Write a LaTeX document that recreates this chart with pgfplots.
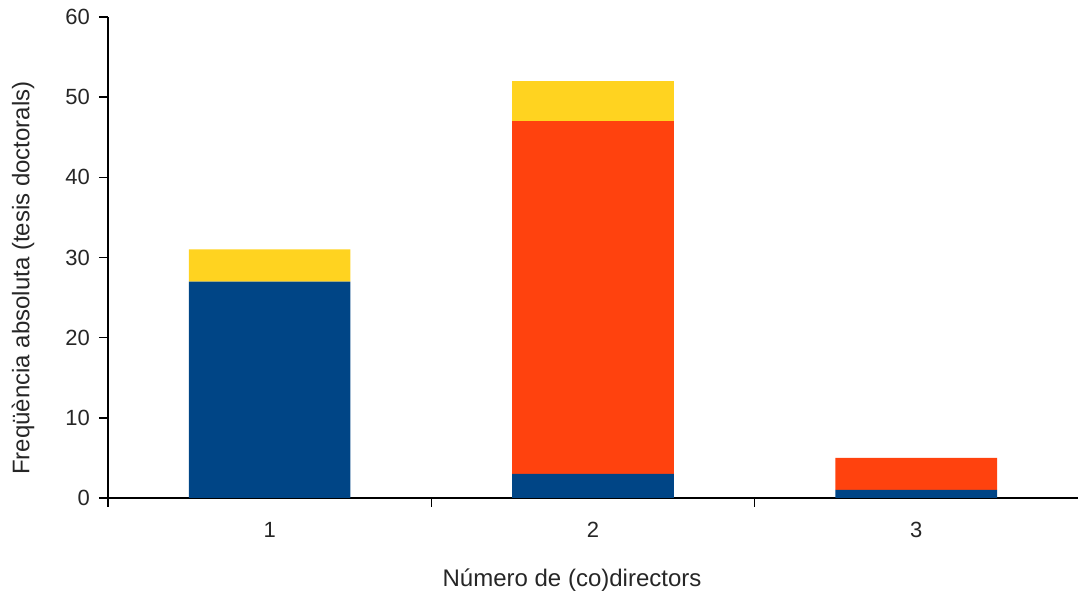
\documentclass[border=0pt]{standalone}
\usepackage{pgfplots}
\pgfplotsset{compat=1.18}
\usepackage{fontspec}
\setmainfont{Liberation Sans}
\definecolor{loblue}{HTML}{004586}
\definecolor{lored}{HTML}{FF420E}
\definecolor{loyellow}{HTML}{FFD320}
\begin{document}
\begin{tikzpicture}
\useasboundingbox (-54pt,-47pt) rectangle (485pt,249pt);
\begin{axis}[
  at={(0,0)}, anchor=south west,
  scale only axis,
  width=485pt, height=240.5pt,
  ybar stacked, bar width=0.5,
  xmin=0.5, xmax=3.5, ymin=0, ymax=60,
  axis x line*=bottom, axis y line*=left,
  axis line style={black, line width=0.75pt},
  xtick={0.5,1.5,2.5}, xticklabels={},
  extra x ticks={1,2,3}, extra x tick labels={1,2,3},
  extra x tick style={major tick length=0pt, xticklabel style={yshift=-8.5pt}},
  ytick={0,10,20,30,40,50,60},
  ytick pos=left, xtick pos=bottom,
  tick align=outside,
  major tick length=4.5pt,
  every tick/.style={draw=black, line width=0.75pt},
  ticklabel style={font=\fontsize{11}{13}\selectfont, text=black!85},
  /pgf/number format/assume math mode=true,
  yticklabel style={xshift=-1pt},
  xlabel={Número de (co)directors},
  ylabel={Freqüència absoluta (tesis doctorals)},
  label style={font=\fontsize{12}{14}\selectfont, text=black!85},
  xlabel style={at={(rel axis cs:0.4784,0)}, anchor=base, yshift=-44.5pt},
  ylabel style={at={(axis description cs:-0.0876,0.457)}, anchor=center},
  clip=false,
]
\addplot+[fill=loblue, draw=none] coordinates {(1,27) (2,3) (3,1)};
\addplot+[fill=lored, draw=none] coordinates {(1,0) (2,44) (3,4)};
\addplot+[fill=loyellow, draw=none] coordinates {(1,4) (2,5) (3,0)};
\end{axis}
\end{tikzpicture}
\end{document}
